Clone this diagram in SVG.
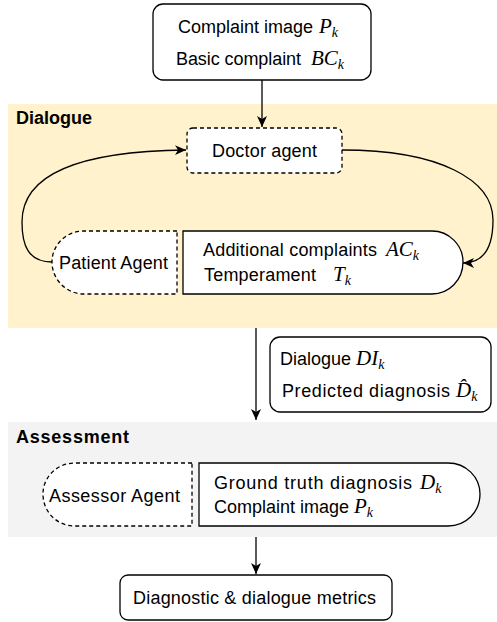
<svg xmlns="http://www.w3.org/2000/svg" width="497" height="622" viewBox="0 0 497 622">
<style>
text{font-family:"Liberation Sans",Arial,sans-serif;font-size:18px;fill:#000}
.m{font-family:"Liberation Serif","Times New Roman",serif;font-style:italic;font-size:21px}
.s{font-family:"Liberation Serif","Times New Roman",serif;font-style:italic;font-size:14px}
.b{font-weight:bold;font-size:18px}
.box{fill:#fff;stroke:#000;stroke-width:1.3}
.dash{fill:#fff;stroke:#000;stroke-width:1.3;stroke-dasharray:4 3}
.c{fill:none;stroke:#000;stroke-width:1.3}
</style>
<defs>
<marker id="ar" markerUnits="userSpaceOnUse" markerWidth="12" markerHeight="12" viewBox="0 0 12 12" refX="11" refY="6" orient="auto">
<path d="M0,1 L11,6 L0,11 L3,6 z" fill="#000"/>
</marker>
</defs>
<rect id="panel-dialogue" x="8" y="104" width="489" height="224" fill="#fff2cc"/>
<rect id="panel-assessment" x="8" y="422" width="489" height="115" fill="#f3f3f3"/>
<text class="b" x="16" y="124">Dialogue</text>
<text class="b" x="16" y="443" textLength="113">Assessment</text>
<g id="connectors">
<path class="c" d="M262,80 V127" marker-end="url(#ar)"/>
<path class="c" d="M52,262 C28,262 22,245 22,222 C22,170 90,151 186,150" marker-end="url(#ar)"/>
<path class="c" d="M342,150 C440,150 493,180 493,220 C493,250 482,263 463,263" marker-end="url(#ar)"/>
<path class="c" d="M256,328 V420" marker-end="url(#ar)"/>
<path class="c" d="M256,537 V574" marker-end="url(#ar)"/>
</g>
<g id="input">
<rect class="box" x="153" y="4" width="218" height="76" rx="10"/>
<text x="178" y="33">Complaint image<tspan class="m" x="319">P</tspan><tspan class="s" dy="4">k</tspan></text>
<text x="176" y="65"><tspan textLength="125">Basic complaint</tspan><tspan class="m" x="311">BC</tspan><tspan class="s" dy="4">k</tspan></text>
</g>
<g id="doctor">
<rect class="dash" x="187" y="128" width="155" height="45" rx="6"/>
<text x="212" y="157" textLength="105">Doctor agent</text>
</g>
<g id="patient">
<path class="dash" d="M177,231 H84 C66,231 52,245 52,262 C52,279 66,294 84,294 H177 Z"/>
<text x="59" y="269" textLength="109">Patient Agent</text>
</g>
<g id="patient-info">
<path class="box" d="M183,231 H432 C449,231 463,245 463,262 C463,280 449,294 432,294 H183 Z"/>
<text x="203" y="256"><tspan textLength="174">Additional complaints</tspan><tspan class="m" x="386">AC</tspan><tspan class="s" dy="4">k</tspan></text>
<text x="204" y="281"><tspan textLength="112">Temperament</tspan><tspan class="m" x="333">T</tspan><tspan class="s" dy="4">k</tspan></text>
</g>
<g id="dialogue-output">
<rect class="box" x="270" y="337" width="221" height="75" rx="10"/>
<text x="280" y="365">Dialogue<tspan class="m" x="356">DI</tspan><tspan class="s" dy="4">k</tspan></text>
<text x="282" y="397"><tspan textLength="168">Predicted diagnosis</tspan><tspan class="m" x="456">D̂</tspan><tspan class="s" dy="4">k</tspan></text>
</g>
<g id="assessor">
<path class="dash" d="M192,463 H75 C57,463 43,477 43,494 C43,512 57,526 75,526 H192 Z"/>
<text x="49" y="502" textLength="131">Assessor Agent</text>
</g>
<g id="assessor-info">
<path class="box" d="M199,463 H448 C466,463 480,477 480,494 C480,512 466,526 448,526 H199 Z"/>
<text x="214" y="489"><tspan textLength="198">Ground truth diagnosis</tspan><tspan class="m" x="420">D</tspan><tspan class="s" dy="4">k</tspan></text>
<text x="214" y="513">Complaint image<tspan class="m" x="354">P</tspan><tspan class="s" dy="4">k</tspan></text>
</g>
<g id="metrics">
<rect class="box" x="120" y="575" width="272" height="45" rx="8"/>
<text x="133" y="604" textLength="243">Diagnostic &amp; dialogue metrics</text>
</g>
</svg>
